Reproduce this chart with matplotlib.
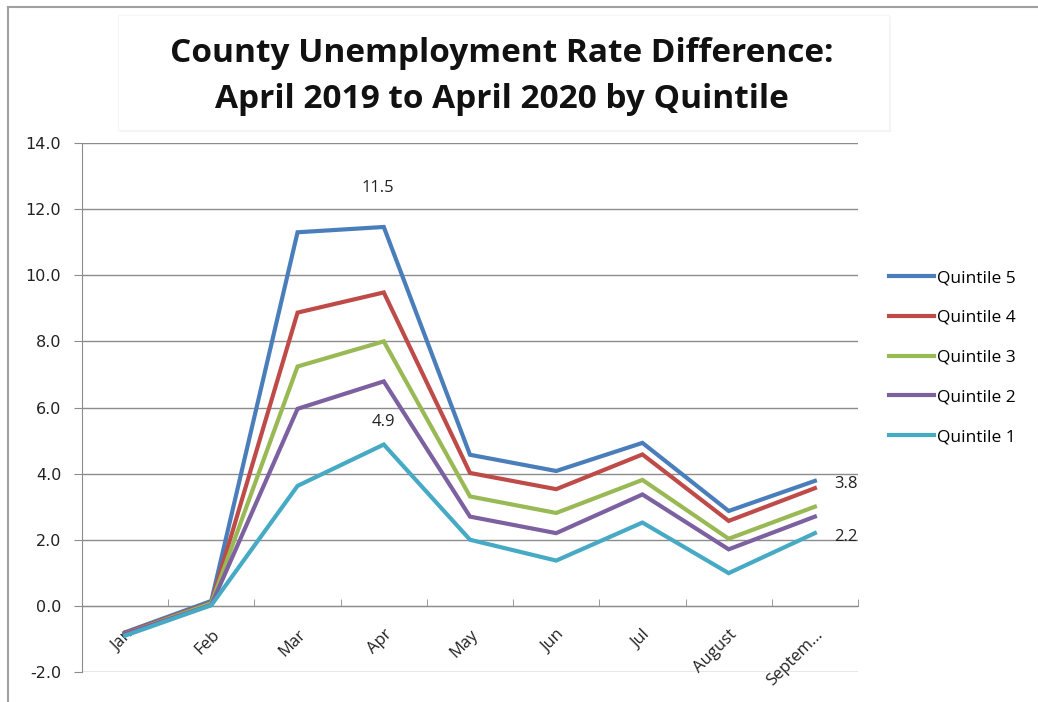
import matplotlib
matplotlib.use("Agg")
import matplotlib.pyplot as plt
from matplotlib.lines import Line2D
from matplotlib.patches import Rectangle

months = ["Jan", "Feb", "Mar", "Apr", "May", "Jun", "Jul", "August", "Septem..."]
series_names = ["Quintile 5", "Quintile 4", "Quintile 3", "Quintile 2", "Quintile 1"]
q5 = [-0.80, 0.15, 11.30, 11.46, 4.57, 4.08, 4.93, 2.87, 3.78]
q4 = [-0.82, 0.10, 8.87, 9.48, 4.02, 3.53, 4.58, 2.57, 3.56]
q3 = [-0.85, 0.08, 7.24, 8.00, 3.31, 2.81, 3.81, 2.03, 3.00]
q2 = [-0.85, 0.03, 5.96, 6.79, 2.70, 2.20, 3.37, 1.71, 2.70]
q1 = [-0.90, 0.02, 3.63, 4.88, 2.00, 1.37, 2.52, 0.99, 2.20]
series = [q5, q4, q3, q2, q1]
colors = ["#4a7ebb", "#be4b48", "#98b954", "#7d60a0", "#46aac5"]
title = "County Unemployment Rate Difference:\nApril 2019 to April 2020 by Quintile"

W, H = 1038, 702
fig = plt.figure(figsize=(W / 100, H / 100), dpi=100)
fig.patch.set_facecolor("white")

# outer border (top and left)
fig.add_artist(Line2D([8 / W, 1], [1 - 7 / H, 1 - 7 / H], color="#a0a0a0", lw=1.5))
fig.add_artist(Line2D([8 / W, 8 / W], [0, 1 - 7 / H], color="#a0a0a0", lw=1.5))

# title box with faint shadow
fig.add_artist(Rectangle((120 / W, 1 - 132 / H), (891 - 120) / W, (132 - 17) / H,
                         transform=fig.transFigure, facecolor="#f3f3f3", edgecolor="none", zorder=0))
fig.add_artist(Rectangle((118 / W, 1 - 130 / H), (889 - 118) / W, (130 - 15) / H,
                         transform=fig.transFigure, facecolor="white", edgecolor="#f6f6f6", lw=0.8, zorder=0.5))
fig.text(502 / W, 1 - 76.5 / H, title, ha="center", va="center", fontsize=24,
         fontweight="bold", family="Open Sans", linespacing=1.55, color="#111111")

ax = fig.add_axes([82 / W, 1 - 672 / H, (858 - 82) / W, (672 - 143) / H])
x = list(range(len(months)))
handles = []
for s, c, n in zip(series, colors, series_names):
    h, = ax.plot(x, s, color=c, lw=3.0, solid_joinstyle="miter", label=n, zorder=3)
    handles.append(h)

ax.set_xlim(-0.5, len(months) - 0.5)
ax.set_ylim(-2, 14)
ax.set_yticks([-2, 0, 2, 4, 6, 8, 10, 12, 14])
ax.set_yticklabels([f"{v:.1f}" for v in [-2, 0, 2, 4, 6, 8, 10, 12, 14]],
                   fontsize=11.5, family="DejaVu Sans", color="#222222")
ax.grid(axis="y", color="#8c8c8c", lw=1.0, zorder=1)
ax.set_axisbelow(True)

for sp in ["top", "right"]:
    ax.spines[sp].set_visible(False)
ax.spines["left"].set_color("#8c8c8c")
ax.spines["bottom"].set_color("#8c8c8c")
ax.spines["bottom"].set_position(("data", 0))
ax.tick_params(axis="y", length=6, color="#8c8c8c", pad=9)

ax.set_xticks(x)
ax.set_xticklabels(months, rotation=45, ha="right", rotation_mode="anchor",
                   fontsize=12, family="Open Sans", color="#222222")
ax.tick_params(axis="x", which="major", length=0, pad=15)
ax.set_xticks([i - 0.5 for i in range(len(months) + 1)], minor=True)
ax.tick_params(axis="x", which="minor", length=5, direction="in", color="#8c8c8c")

# data labels
lbl = dict(fontsize=12, family="Open Sans", color="#222222")
ax.annotate(f"{q5[3]:.1f}", (3, q5[3]), xytext=(-4, 28), textcoords="offset points", ha="center", va="center", **lbl)
ax.annotate(f"{q1[3]:.1f}", (3, q1[3]), xytext=(0, 16), textcoords="offset points", ha="center", va="center", **lbl)
ax.annotate(f"{q5[8]:.1f}", (8, q5[8]), xytext=(14, -2), textcoords="offset points", ha="left", va="center", **lbl)
ax.annotate(f"{q1[8]:.1f}", (8, q1[8]), xytext=(14, -3), textcoords="offset points", ha="left", va="center", **lbl)

fig.legend(handles=handles, loc="upper left", bbox_to_anchor=(889 / W, 1 - 270 / H),
           frameon=False, prop={"family": "Open Sans", "size": 12.5},
           borderpad=0, borderaxespad=0, labelspacing=1.36, handlelength=2.6, handletextpad=0.15)

fig.savefig("out.png", dpi=100, facecolor="white")
